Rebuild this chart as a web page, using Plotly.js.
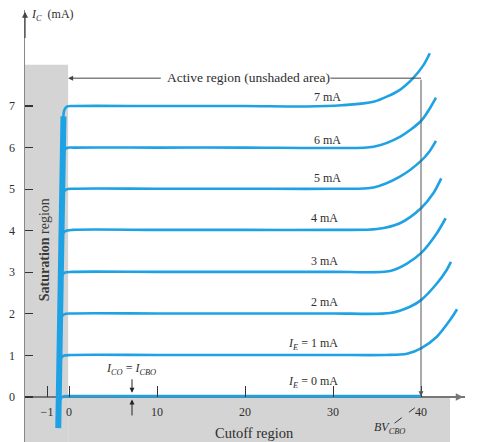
<!DOCTYPE html>
<html>
<head>
<meta charset="utf-8">
<script src="https://cdn.plot.ly/plotly-3.0.1.min.js"></script>
<style>html,body{margin:0;padding:0;background:#fff;}#chart{width:501px;height:442px;}</style>
</head>
<body>
<div id="chart"></div>
<script>
// Collector characteristics (common-base)
const levelNames = ['I_E = 0 mA','I_E = 1 mA','2 mA','3 mA','4 mA','5 mA','6 mA','7 mA'];
const V0 = [-1.17, -1.02, -0.7, 0.1, 10, 20, 30, 40];
const I0 = [-0.3, -0.08, 0.01, 0.02, 0.02, 0.02, 0.02, 0.02];
const V1 = [-1.10, -0.98, -0.65, 0.2, 10, 20, 30, 36, 38.4, 40, 41.8, 43.3, 44.1];
const I1 = [0.65, 0.9, 0.99, 1.01, 1.01, 1.01, 1.01, 1.01, 1.04, 1.17, 1.45, 1.85, 2.11];
const V2 = [-1.03, -0.91, -0.58, 0.3, 10, 20, 30, 36.5, 38.75, 40, 41.8, 42.9, 43.4];
const I2 = [1.65, 1.9, 1.99, 2.01, 2.01, 2.01, 2.01, 2.02, 2.17, 2.33, 2.73, 3.05, 3.25];
const V3 = [-0.95, -0.83, -0.5, 0.35, 10, 20, 30, 36.5, 38.4, 40, 41.8, 42.8];
const I3 = [2.65, 2.9, 2.99, 3.01, 3.01, 3.01, 3.01, 3.03, 3.21, 3.46, 3.94, 4.30];
const V4 = [-0.88, -0.76, -0.43, 0.4, 10, 20, 30, 35, 37.6, 40, 41.4, 42.3];
const I4 = [3.65, 3.9, 3.99, 4.02, 4.02, 4.02, 4.02, 4.04, 4.18, 4.54, 4.9, 5.26];
const V5 = [-0.80, -0.68, -0.35, 0.5, 10, 20, 30, 34.6, 37.6, 40, 41, 41.7];
const I5 = [4.65, 4.9, 4.99, 5.01, 5.01, 5.01, 5.01, 5.04, 5.30, 5.68, 5.92, 6.16];
const V6 = [-0.73, -0.61, -0.28, 0.55, 10, 20, 30, 34.6, 37.6, 40, 41, 41.7];
const I6 = [5.65, 5.9, 5.99, 6.0, 6.0, 6.0, 5.99, 6.02, 6.26, 6.64, 6.94, 7.2];
const V7 = [-0.66, -0.54, -0.21, 0.6, 10, 20, 27, 31, 34.6, 37.6, 39.1, 40.3, 41.0];
const I7 = [6.65, 6.9, 6.99, 7.0, 7.0, 7.0, 6.99, 7.02, 7.10, 7.39, 7.67, 7.99, 8.27];
// saturation-region steep line
const SAT_V = [-1.22, -0.63];
const SAT_I = [-0.75, 6.75];
// curve label positions
const LABEL_V = [27.7, 27.7, 29.0, 29.0, 29.0, 29.4, 29.4, 29.4];
const LABEL_I = [0.36, 1.27, 2.29, 3.27, 4.3, 5.27, 6.18, 7.22];
// axis ticks
const X_TICKVALS = [-2.5, 0, 10, 20, 30, 40];
const X_TICKTEXT = ['\u22121', '0', '10', '20', '30', '40'];
const Y_TICKVALS = [0, 1, 2, 3, 4, 5, 6, 7];
const Y_TICKTEXT = ['0', '1', '2', '3', '4', '5', '6', '7'];

const BLUE = '#1EA2E4';
const GRAY = '#D4D4D4';
const SERIF = 'Liberation Serif, Times New Roman, serif';
const TXT = '#2e2e2e';

const Vs = [V0, V1, V2, V3, V4, V5, V6, V7];
const Is = [I0, I1, I2, I3, I4, I5, I6, I7];

const traces = [{
  x: SAT_V, y: SAT_I, mode: 'lines', line: {color: BLUE, width: 6}, hoverinfo: 'skip'
}];
Vs.forEach((v, k) => traces.push({
  x: v, y: Is[k], mode: 'lines', line: {color: BLUE, width: 2.6, shape: 'spline', smoothing: 0.8},
  name: levelNames[k], hoverinfo: 'skip'
}));

const ANNO_LABELS = [
  '<i>I<sub>E</sub></i> = 0 mA', '<i>I<sub>E</sub></i> = 1 mA', '2 mA', '3 mA', '4 mA', '5 mA', '6 mA', '7 mA'
];
const annotations = ANNO_LABELS.map((t, k) => ({
  x: LABEL_V[k], y: LABEL_I[k], xref: 'x', yref: 'y', text: t, showarrow: false,
  font: {family: SERIF, size: 12, color: TXT}
}));

function arrow(hx, hy, tx, ty, color, w) {
  return {x: hx, y: hy, ax: tx, ay: ty, xref: 'x', yref: 'y', axref: 'x', ayref: 'y',
    text: '', showarrow: true, arrowhead: 2, arrowsize: 1, arrowwidth: w || 1, arrowcolor: color || '#444'};
}
annotations.push(
  arrow(-0.1, 7.67, 10.6, 7.67, '#444', 1),
  arrow(40, 0.02, 40, 7.67, '#555', 1),
  arrow(7.16, 0.1, 7.16, 0.46, '#222', 1),
  arrow(7.16, -0.06, 7.16, -0.48, '#222', 1),
  arrow(44.8, 0, 42.5, 0, '#777', 1.5),
  arrow(-5, 9.27, -5, 8.6, '#444', 1.2),
  {x: 20.4, y: 7.69, xref: 'x', yref: 'y', text: 'Active region (unshaded area)', showarrow: false,
   font: {family: SERIF, size: 13.5, color: TXT}},
  {x: 7.0, y: 0.68, xref: 'x', yref: 'y', text: '<i>I<sub>CO</sub></i> = <i>I<sub>CBO</sub></i>', showarrow: false,
   font: {family: SERIF, size: 12, color: TXT}},
  {x: 21.1, y: -0.86, xref: 'x', yref: 'y', text: 'Cutoff region', showarrow: false,
   font: {family: SERIF, size: 14.5, color: TXT}},
  {x: 36.4, y: -0.74, xref: 'x', yref: 'y', text: '<i>BV<sub>CBO</sub></i>', showarrow: false,
   font: {family: SERIF, size: 12, color: TXT}},
  {x: 45.8, y: -0.3, xref: 'x', yref: 'y', text: '<i>V<sub>CB</sub></i> (V)', showarrow: false,
   font: {family: SERIF, size: 12, color: TXT}},
  {x: -1.9, y: 9.19, xref: 'x', yref: 'y', text: '<i>I<sub>C</sub></i>  (mA)', showarrow: false,
   font: {family: SERIF, size: 12, color: TXT}},
  {x: -2.75, y: 3.55, xref: 'x', yref: 'y', text: '<b>Saturation</b> region', showarrow: false, textangle: -90,
   font: {family: SERIF, size: 14, color: '#3a3a3a'}}
);

const shapes = [
  {type: 'rect', xref: 'x', yref: 'y', x0: -5, x1: -0.1, y0: -1.2, y1: 7.99, fillcolor: GRAY, line: {width: 0}, layer: 'below'},
  {type: 'rect', xref: 'x', yref: 'y', x0: -0.1, x1: 43.3, y0: -1.2, y1: 0, fillcolor: GRAY, line: {width: 0}, layer: 'below'},
  {type: 'line', xref: 'x', yref: 'y', x0: 29.7, x1: 40, y0: 7.67, y1: 7.67, line: {color: '#444', width: 1}},
  {type: 'line', xref: 'x', yref: 'y', x0: 37.0, x1: 39.3, y0: -0.63, y1: -0.26, line: {color: '#333', width: 1, dash: 'dash'}}
];

const layout = {
  width: 501, height: 442,
  margin: {l: 25, r: 36, t: 10, b: 0, pad: 0},
  paper_bgcolor: '#fff', plot_bgcolor: 'rgba(0,0,0,0)',
  showlegend: false,
  xaxis: {
    range: [-5, 45], anchor: 'free', position: 1.083 / 10.393,
    showline: false, zeroline: false, showgrid: false,
    ticks: 'inside', ticklen: 11, tickwidth: 1, tickcolor: '#333',
    tickvals: X_TICKVALS, ticktext: X_TICKTEXT, ticklabelstandoff: 6,
    tickfont: {family: SERIF, size: 12, color: TXT}, fixedrange: true
  },
  yaxis: {
    range: [-1.083, 9.31], showline: true, linecolor: '#888', linewidth: 1.5,
    zeroline: true, zerolinecolor: '#777', zerolinewidth: 2, showgrid: false,
    ticks: 'inside', ticklen: 8, tickwidth: 1.2, tickcolor: '#333',
    tickvals: Y_TICKVALS, ticktext: Y_TICKTEXT, ticklabelstandoff: 6,
    tickfont: {family: SERIF, size: 12, color: TXT}, fixedrange: true
  },
  shapes: shapes,
  annotations: annotations
};

Plotly.newPlot('chart', traces, layout, {displayModeBar: false, staticPlot: true});
</script>
</body>
</html>
